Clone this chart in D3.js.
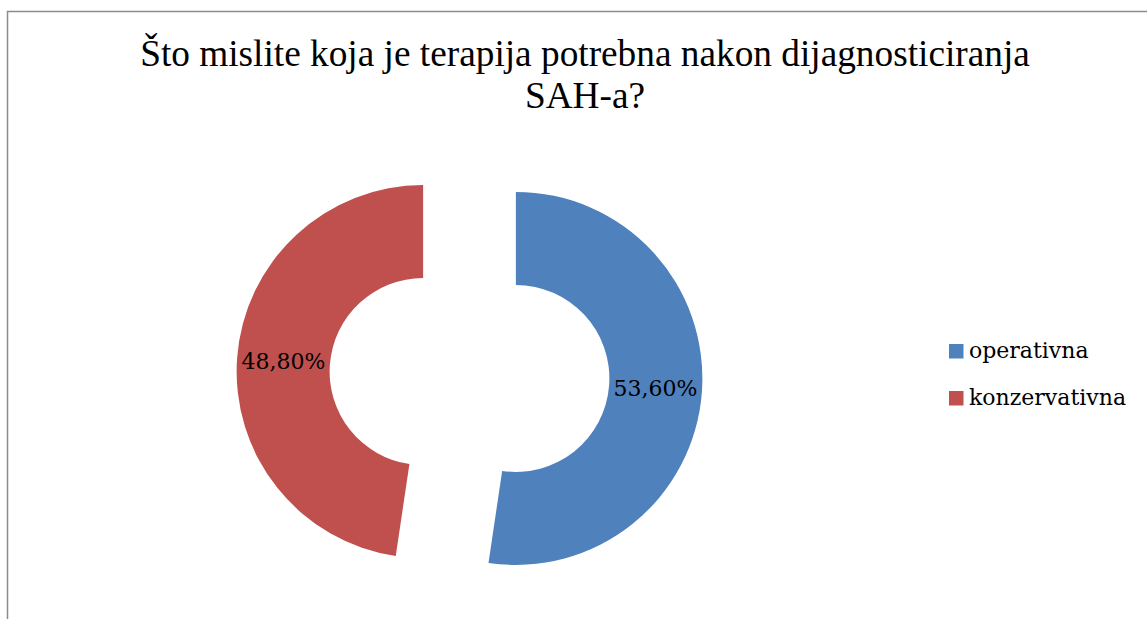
<!DOCTYPE html>
<html>
<head>
<meta charset="utf-8">
<script src="https://cdn.jsdelivr.net/npm/d3@7"></script>
<style>
  body { margin: 0; background: #fff; }
  svg { display: block; }
</style>
</head>
<body>
<div id="chart"></div>
<script>
// data
var categories = ["operativna", "konzervativna"];
var values = [53.6, 48.8];
var labels = ["53,60%", "48,80%"];
var colors = ["#4F81BD", "#C0504D"];
var titleLines = ["Što mislite koja je terapija potrebna nakon dijagnosticiranja", "SAH-a?"];

var width = 1147, height = 619;

var svg = d3.select("#chart").append("svg")
  .attr("width", width)
  .attr("height", height);

// chart border
svg.append("rect")
  .attr("x", 7.5).attr("y", 11.5)
  .attr("width", 1160).attr("height", 640)
  .attr("fill", "none")
  .attr("stroke", "#8c8c8c")
  .attr("stroke-width", 1.5);

// title
svg.append("text")
  .attr("x", 585)
  .attr("y", 66)
  .attr("text-anchor", "middle")
  .style("font-family", "'Liberation Serif', 'Times New Roman', serif")
  .style("font-size", "37.3px")
  .selectAll("tspan")
  .data(titleLines)
  .enter().append("tspan")
  .attr("x", 585)
  .attr("dy", function(d, i) { return i === 0 ? 0 : 42; })
  .text(function(d) { return d; });

// donut
var cx = 469.5, cy = 375,
    outerR = 186.5, innerR = 93.5,
    explode = 46.5;

var pie = d3.pie().sort(null).value(function(d) { return d; });
var arc = d3.arc().innerRadius(innerR).outerRadius(outerR);
var arcs = pie(values);

var g = svg.append("g")
  .attr("transform", "translate(" + cx + "," + cy + ")");

function shift(d) {
  var a = (d.startAngle + d.endAngle) / 2;
  return [Math.sin(a) * explode, -Math.cos(a) * explode];
}

var slice = g.selectAll(".slice")
  .data(arcs)
  .enter().append("g")
  .attr("class", "slice")
  .attr("transform", function(d) { var s = shift(d); return "translate(" + s[0] + "," + s[1] + ")"; });

slice.append("path")
  .attr("d", arc)
  .attr("fill", function(d, i) { return colors[i]; });

slice.append("text")
  .attr("transform", function(d) { return "translate(" + arc.centroid(d) + ")"; })
  .attr("dy", "0.35em")
  .attr("text-anchor", "middle")
  .style("font-family", "'DejaVu Serif', serif")
  .style("font-size", "22px")
  .attr("fill", "#000")
  .text(function(d, i) { return labels[i]; });

// legend
var legend = svg.selectAll(".legend")
  .data(categories)
  .enter().append("g")
  .attr("class", "legend")
  .attr("transform", function(d, i) { return "translate(949," + (344 + i * 47) + ")"; });

legend.append("rect")
  .attr("width", 14.5).attr("height", 14.5)
  .attr("fill", function(d, i) { return colors[i]; });

legend.append("text")
  .attr("x", 20)
  .attr("y", 14)
  .style("font-family", "'DejaVu Serif', serif")
  .style("font-size", "22px")
  .attr("fill", "#000")
  .text(function(d) { return d; });
</script>
</body>
</html>
